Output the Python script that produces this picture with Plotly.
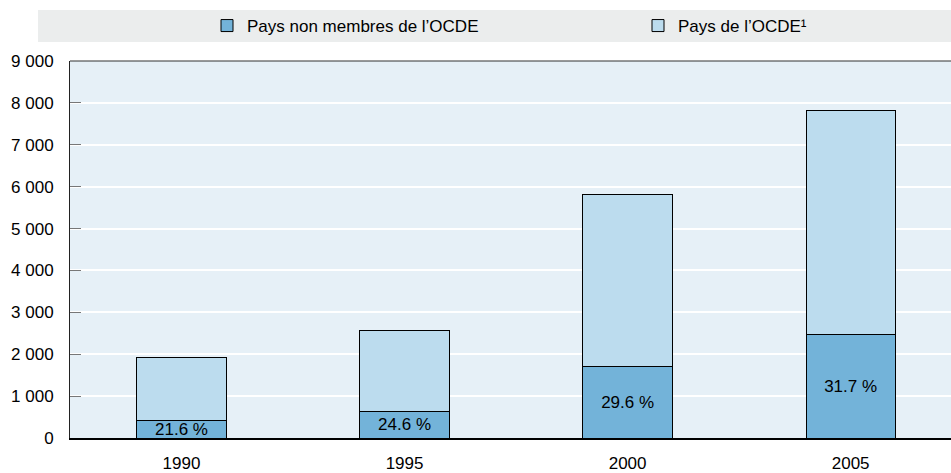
import plotly.graph_objects as go

years = ["1990", "1995", "2000", "2005"]
non_oecd = [414, 629, 1716, 2472]
oecd = [1500, 1928, 4086, 5347]
share_labels = ["21.6 %", "24.6 %", "29.6 %", "31.7 %"]
y_ticks = [0, 1000, 2000, 3000, 4000, 5000, 6000, 7000, 8000, 9000]

FONT = "Liberation Sans, Arimo, Arial, sans-serif"
FS = 17

W, H = 951, 473
ML, MR, MT, MB = 70, 0, 61, 35
PW, PH = W - ML - MR, H - MT - MB

fig = go.Figure()
fig.add_trace(go.Bar(
    x=years, y=non_oecd, name="Pays non membres de l\u2019OCDE",
    marker=dict(color="#73b3d9", line=dict(color="black", width=1)),
    text=share_labels, textposition="inside", insidetextanchor="middle",
    constraintext="none", textangle=0,
    textfont=dict(color="black", size=FS, family=FONT),
    width=0.4, legend="legend",
))
fig.add_trace(go.Bar(
    x=years, y=oecd, name="Pays de l\u2019OCDE\u00b9",
    marker=dict(color="#bcdcee", line=dict(color="black", width=1)),
    width=0.4, legend="legend2",
))

leg_common = dict(
    orientation="h", xanchor="left", yref="container", xref="container",
    y=1.0 - 8 / H, yanchor="top", bgcolor="rgba(0,0,0,0)",
    font=dict(size=FS, family=FONT, color="black"),
)

fig.update_layout(
    barmode="stack",
    width=W, height=H,
    margin=dict(l=ML, r=MR, t=MT, b=MB, autoexpand=False),
    paper_bgcolor="white",
    plot_bgcolor="#e6f0f7",
    separators=". ",
    font=dict(family=FONT, size=FS, color="black"),
    showlegend=True,
    legend=dict(x=207 / W, **leg_common),
    legend2=dict(x=638 / W, **leg_common),
    shapes=[
        dict(type="rect", xref="paper", yref="paper",
             x0=(38 - ML) / PW, x1=1.0,
             y0=(H - MB - 42) / PH, y1=(H - MB - 10) / PH,
             fillcolor="#ebeded", line=dict(width=0), layer="below"),
        dict(type="line", xref="paper", yref="paper",
             x0=0, x1=1, y0=1, y1=1,
             line=dict(color="#333333", width=1)),
    ],
    xaxis=dict(
        type="category", range=[-0.5, 3.45],
        showgrid=False, ticks="", ticklabelstandoff=9,
        showline=True, linecolor="black", linewidth=2,
        tickfont=dict(size=FS),
    ),
    yaxis=dict(
        range=[0, 9000], tickvals=y_ticks, tickformat=",d",
        showgrid=True, gridcolor="white", gridwidth=2,
        showline=True, linecolor="#222222", linewidth=1,
        ticks="inside", ticklen=11, tickcolor="#777777", tickwidth=1,
        ticklabelstandoff=12,
        zeroline=False, tickfont=dict(size=FS),
    ),
)

fig.write_html(
    "out.html",
    config={"displayModeBar": False},
    post_script="document.body.style.margin='0';document.body.style.padding='0';",
)
